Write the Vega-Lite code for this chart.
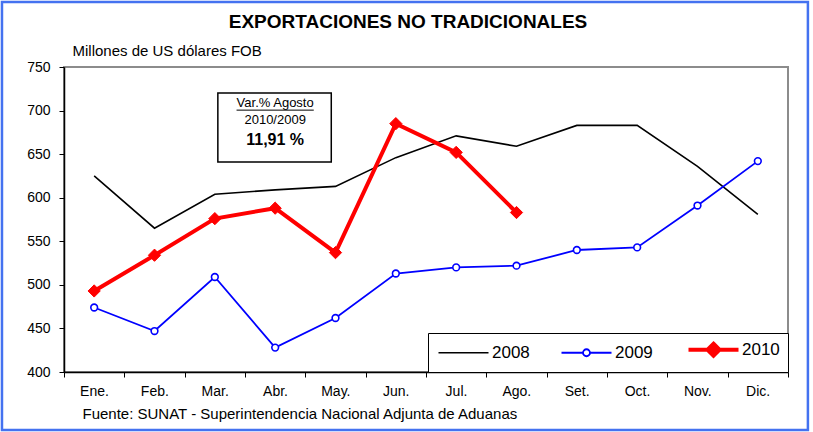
{
  "$schema": "https://vega.github.io/schema/vega-lite/v6.json",
  "width": 724,
  "height": 305,
  "autosize": {"type": "none"},
  "padding": {"left": 64, "top": 67, "right": 25, "bottom": 60},
  "background": "white",
  "title": {
    "text": "EXPORTACIONES NO TRADICIONALES",
    "fontSize": 19,
    "fontWeight": "bold",
    "font": "Liberation Sans",
    "anchor": "middle",
    "color": "black",
    "offset": 0,
    "dx": -18,
    "dy": 31
  },
  "config": {
    "font": "Liberation Sans",
    "view": {"stroke": "#8c8c8c", "strokeWidth": 2}
  },
  "data": {
    "values": [
      {"mes": 1, "anio": "2008", "valor": 625},
      {"mes": 2, "anio": "2008", "valor": 565},
      {"mes": 3, "anio": "2008", "valor": 604},
      {"mes": 4, "anio": "2008", "valor": 609},
      {"mes": 5, "anio": "2008", "valor": 613},
      {"mes": 6, "anio": "2008", "valor": 646},
      {"mes": 7, "anio": "2008", "valor": 671},
      {"mes": 8, "anio": "2008", "valor": 659},
      {"mes": 9, "anio": "2008", "valor": 683},
      {"mes": 10, "anio": "2008", "valor": 683},
      {"mes": 11, "anio": "2008", "valor": 636},
      {"mes": 12, "anio": "2008", "valor": 581},
      {"mes": 1, "anio": "2009", "valor": 474},
      {"mes": 2, "anio": "2009", "valor": 447},
      {"mes": 3, "anio": "2009", "valor": 509},
      {"mes": 4, "anio": "2009", "valor": 428},
      {"mes": 5, "anio": "2009", "valor": 462},
      {"mes": 6, "anio": "2009", "valor": 513},
      {"mes": 7, "anio": "2009", "valor": 520},
      {"mes": 8, "anio": "2009", "valor": 522},
      {"mes": 9, "anio": "2009", "valor": 540},
      {"mes": 10, "anio": "2009", "valor": 543},
      {"mes": 11, "anio": "2009", "valor": 591},
      {"mes": 12, "anio": "2009", "valor": 642},
      {"mes": 1, "anio": "2010", "valor": 493},
      {"mes": 2, "anio": "2010", "valor": 534},
      {"mes": 3, "anio": "2010", "valor": 576},
      {"mes": 4, "anio": "2010", "valor": 588},
      {"mes": 5, "anio": "2010", "valor": 537},
      {"mes": 6, "anio": "2010", "valor": 685},
      {"mes": 7, "anio": "2010", "valor": 652},
      {"mes": 8, "anio": "2010", "valor": 583}
    ]
  },
  "layer": [
    {
      "mark": {"type": "line"},
      "encoding": {
        "x": {
          "field": "mes",
          "type": "quantitative",
          "scale": {"domain": [0.5, 12.5], "nice": false, "zero": false},
          "axis": {
            "orient": "bottom",
            "values": [0.5, 1.5, 2.5, 3.5, 4.5, 5.5, 6.5, 7.5, 8.5, 9.5, 10.5, 11.5, 12.5],
            "labelExpr": "['Ene.','Feb.','Mar.','Abr.','May.','Jun.','Jul.','Ago.','Set.','Oct.','Nov.','Dic.',''][floor(datum.value)]",
            "labelOffset": 30,
            "labelFlush": false,
            "labelOverlap": false,
            "labelFontSize": 14,
            "labelColor": "black",
            "labelPadding": 7,
            "tickSize": 5,
            "tickColor": "black",
            "domainColor": "black",
            "domainWidth": 1.5,
            "grid": false,
            "title": "Fuente: SUNAT - Superintendencia Nacional Adjunta de Aduanas",
            "titleX": 18,
            "titleY": 41,
            "titleAlign": "left",
            "titleBaseline": "middle",
            "titleFontWeight": "normal",
            "titleFontSize": 15,
            "titleColor": "black"
          }
        },
        "y": {
          "field": "valor",
          "type": "quantitative",
          "scale": {"domain": [400, 750], "nice": false, "zero": false},
          "axis": {
            "orient": "left",
            "values": [400, 450, 500, 550, 600, 650, 700, 750],
            "labelFontSize": 14,
            "labelColor": "black",
            "labelPadding": 9,
            "tickSize": 5,
            "tickColor": "black",
            "domainColor": "black",
            "domainWidth": 1.5,
            "grid": false,
            "title": "Millones de US dólares FOB",
            "titleAngle": 0,
            "titleX": 8,
            "titleY": -17,
            "titleAlign": "left",
            "titleBaseline": "middle",
            "titleFontWeight": "normal",
            "titleFontSize": 15,
            "titleColor": "black"
          }
        },
        "color": {
          "field": "anio",
          "type": "nominal",
          "scale": {"domain": ["2008", "2009", "2010"], "range": ["#000000", "#0000FF", "#FF0000"]},
          "legend": {
            "orient": "bottom-right",
            "offset": 0,
            "direction": "horizontal",
            "title": null,
            "strokeColor": "black",
            "fillColor": "white",
            "padding": 8,
            "symbolSize": 100,
            "symbolOffset": 19,
            "labelOffset": 20,
            "labelFontSize": 17,
            "labelColor": "black",
            "columnPadding": 27,
            "encode": {
              "symbols": {
                "update": {
                  "shape": {"signal": "datum.value === '2008' ? 'M-5,0L5,0' : datum.value === '2009' ? 'M-5,0L-0.7,0M0.7,0L5,0M0.7,0A0.7,0.7 0 1 1 -0.7,0A0.7,0.7 0 1 1 0.7,0' : 'M-5,0L5,0M0,-1.2L1.2,0L0,1.2L-1.2,0Z'"},
                  "strokeWidth": {"signal": "datum.value === '2010' ? 4 : datum.value === '2009' ? 1.8 : 1.6"},
                  "fill": {"signal": "datum.value === '2010' ? '#FF0000' : datum.value === '2009' ? '#FFFFFF' : 'transparent'"},
                  "fillOpacity": {"value": 1}
                }
              }
            }
          }
        },
        "strokeWidth": {
          "field": "anio",
          "type": "nominal",
          "scale": {"type": "ordinal", "domain": ["2008", "2009", "2010"], "range": [1.6, 1.8, 4]},
          "legend": null
        }
      }
    },
    {
      "data": {"values": [{}]},
      "mark": {"type": "rect", "fill": "transparent", "stroke": "#4472F0", "strokeWidth": 2.5, "clip": false},
      "encoding": {
        "x": {"datum": -0.528, "type": "quantitative", "scale": {"domain": [0.5, 12.5], "nice": false, "zero": false}},
        "x2": {"datum": 12.83},
        "y": {"datum": 824.6, "type": "quantitative", "scale": {"domain": [400, 750], "nice": false, "zero": false}},
        "y2": {"datum": 333.4}
      }
    },
    {
      "transform": [{"filter": "datum.anio === '2009'"}],
      "mark": {"type": "point", "shape": "circle", "filled": true, "fill": "#FFFFFF", "stroke": "#0000FF", "strokeWidth": 1.6, "size": 45, "opacity": 1},
      "encoding": {
        "x": {"field": "mes", "type": "quantitative", "scale": {"domain": [0.5, 12.5], "nice": false, "zero": false}},
        "y": {"field": "valor", "type": "quantitative", "scale": {"domain": [400, 750], "nice": false, "zero": false}}
      }
    },
    {
      "transform": [{"filter": "datum.anio === '2010'"}],
      "mark": {"type": "point", "shape": "diamond", "filled": true, "fill": "#FF0000", "stroke": "#FF0000", "strokeWidth": 1, "size": 150, "opacity": 1},
      "encoding": {
        "x": {"field": "mes", "type": "quantitative", "scale": {"domain": [0.5, 12.5], "nice": false, "zero": false}},
        "y": {"field": "valor", "type": "quantitative", "scale": {"domain": [400, 750], "nice": false, "zero": false}}
      }
    },
    {
      "data": {"values": [{}]},
      "mark": {"type": "rect", "fill": "#FFFFFF", "stroke": "#000000", "strokeWidth": 1.5},
      "encoding": {
        "x": {"datum": 3.05, "type": "quantitative", "scale": {"domain": [0.5, 12.5], "nice": false, "zero": false}},
        "x2": {"datum": 4.93},
        "y": {"datum": 720.2, "type": "quantitative", "scale": {"domain": [400, 750], "nice": false, "zero": false}},
        "y2": {"datum": 641}
      }
    },
    {
      "data": {"values": [{}]},
      "mark": {"type": "text", "text": "Var.% Agosto", "fontSize": 13, "align": "center", "baseline": "middle", "color": "black"},
      "encoding": {
        "x": {"datum": 4, "type": "quantitative", "scale": {"domain": [0.5, 12.5], "nice": false, "zero": false}},
        "y": {"datum": 708.7, "type": "quantitative", "scale": {"domain": [400, 750], "nice": false, "zero": false}}
      }
    },
    {
      "data": {"values": [{}]},
      "mark": {"type": "rule", "stroke": "black", "strokeWidth": 1},
      "encoding": {
        "x": {"datum": 3.36, "type": "quantitative", "scale": {"domain": [0.5, 12.5], "nice": false, "zero": false}},
        "x2": {"datum": 4.64},
        "y": {"datum": 700.5, "type": "quantitative", "scale": {"domain": [400, 750], "nice": false, "zero": false}}
      }
    },
    {
      "data": {"values": [{}]},
      "mark": {"type": "text", "text": "2010/2009", "fontSize": 13, "align": "center", "baseline": "middle", "color": "black"},
      "encoding": {
        "x": {"datum": 4, "type": "quantitative", "scale": {"domain": [0.5, 12.5], "nice": false, "zero": false}},
        "y": {"datum": 689.2, "type": "quantitative", "scale": {"domain": [400, 750], "nice": false, "zero": false}}
      }
    },
    {
      "data": {"values": [{}]},
      "mark": {"type": "text", "text": "11,91 %", "fontSize": 16, "fontWeight": "bold", "align": "center", "baseline": "middle", "color": "black"},
      "encoding": {
        "x": {"datum": 4, "type": "quantitative", "scale": {"domain": [0.5, 12.5], "nice": false, "zero": false}},
        "y": {"datum": 666.2, "type": "quantitative", "scale": {"domain": [400, 750], "nice": false, "zero": false}}
      }
    }
  ]
}
